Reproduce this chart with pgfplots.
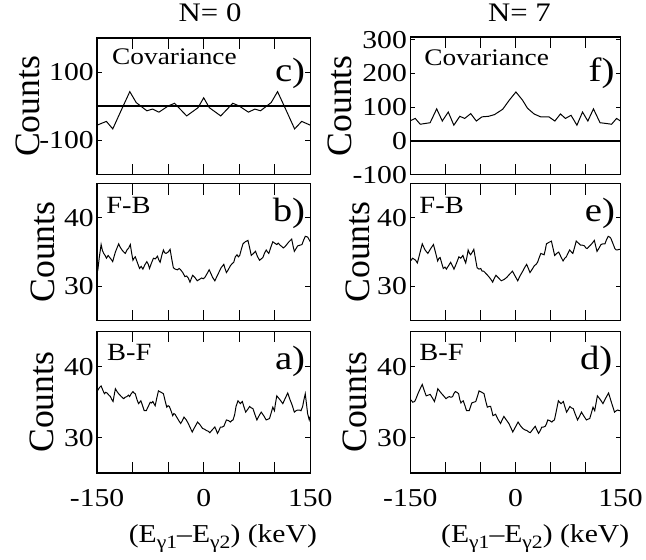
\documentclass[border=0pt]{standalone}
\usepackage{fontspec}
\setmainfont[FakeStretch=1.15]{Liberation Serif}
\newfontfamily\rotfont{Liberation Serif}
\usepackage{pgfplots}
\pgfplotsset{compat=1.18}
\newcommand{\sub}[1]{\raisebox{-6.5bp}{\fontsize{19bp}{19bp}\selectfont #1}}
\pgfplotsset{
  panel/.style={
    scale only axis, anchor=south west,
    xmin=-150, xmax=150,
    axis line style={line width=1.4bp},
    tick style={black, line width=1.2bp},
    tick align=inside, major tick length=11bp,
    xtick={-100,-50,0,50,100}, xticklabels={},
    ytick=\empty,
    extra y tick style={major tick length=5bp},
    tick label style={font=\fontsize{26bp}{26bp}\selectfont},
    ylabel={\rotfont\fontsize{36bp}{36bp}\selectfont Counts},
    ylabel style={anchor=center},
    title style={anchor=base, font=\fontsize{27bp}{27bp}\selectfont},
    xlabel style={anchor=base, font=\fontsize{26bp}{26bp}\selectfont},
  },
  bottomx/.style={
    extra x ticks={-150,0,150}, extra x tick labels={-150,0,150},
    extra x tick style={major tick length=0pt},
    xticklabel style={anchor=base, yshift=-34bp},
    xlabel={(E\sub{γ1}–E\sub{γ2}) (keV)},
  },
  dat/.style={black, line width=1bp, no marks, sharp plot},
}
\tikzset{
  lab/.style={inner sep=0pt, font=\fontsize{24bp}{24bp}\selectfont},
  labm/.style={inner sep=0pt, font=\fontsize{25bp}{25bp}\selectfont},
  letter/.style={inner sep=0pt, font=\fontsize{34bp}{34bp}\selectfont, anchor=base east},
}
\begin{document}
\begin{tikzpicture}
\path (0,0) rectangle (646bp,564bp);
% ---------------- c) top left
\begin{axis}[panel, at={(98bp,388bp)}, width=215bp, height=138bp,
  ymin=-200, ymax=200, extra y ticks={-100,100}, extra y tick labels={-100,100},
  title={N= 0}, title style={at={(axis description cs:0.53,1.08)}},
  ylabel style={at={(axis description cs:-0.3256,0.5)}}]
\addplot[black, line width=1.8bp] coordinates {(-150,0) (150,0)};
\addplot[dat] table {
-150 -55
-137 -44
-128 -66
-114 -2
-104 43
-95 11
-80 -13
-72 -8
-63 -17
-50 1
-41 9
-24 -28
-8 -4
0 25
8 -4
24 -28
41 9
50 1
63 -17
72 -8
80 -13
95 11
104 43
114 -2
128 -66
138 -44
150 -55
};
\node[lab, anchor=base west] at (rel axis cs:0.0698,0.804) {Covariance};
\node[letter] at (rel axis cs:0.977,0.681) {c)};
\end{axis}
% ---------------- b) middle left
\begin{axis}[panel, at={(98bp,241bp)}, width=215bp, height=138bp,
  ymin=25, ymax=45, extra y ticks={30,40}, extra y tick labels={30,40},
  ylabel style={at={(axis description cs:-0.2535,0.5)}}]
\addplot[dat] table {
-150 32.0
-149 32.4
-147 34.2
-144.4 36.1
-142.5 35.2
-140.7 34.8
-138.8 34.5
-136.9 34.1
-134.5 34.5
-132.3 34.2
-130 33.9
-128.1 33.6
-126 34.4
-124.3 35.0
-122 35.6
-119.7 36.2
-117.5 35.7
-115 35.3
-112.5 35.0
-110.3 34.8
-108 35.3
-105.5 35.6
-103.3 36.1
-101.5 34.9
-99.6 33.8
-98 34.1
-96.3 34.3
-93.5 33.5
-90.3 32.6
-88 32.9
-85.6 32.5
-83 33.1
-80 33.6
-78 33.2
-76.3 32.6
-73.5 33.4
-70.7 34.1
-68 34.0
-65.1 34.4
-63 33.8
-61.3 33.5
-59 34.5
-56.7 35.3
-55 34.9
-53 34.8
-50 35.0
-47.3 35.4
-45 34.0
-42.7 32.7
-40 32.5
-37 32.4
-34.5 32.6
-32.4 32.4
-29.5 32.0
-26.3 31.4
-24 31.5
-21.7 31.2
-19.3 30.6
-17.5 31.1
-15.6 31.6
-12.5 31.3
-9.1 30.8
-6 31.0
-3 31.2
-0.5 31.1
1.7 31.3
4.5 31.8
7.7 32.4
10 31.9
12.5 31.3
15.7 30.8
18.5 31.4
21.7 32.1
24.5 32.7
28.3 33.2
30 32.6
32 32.0
34.5 32.4
37.6 33.0
40 33.3
42.3 33.5
44.5 34.3
46.9 34.6
48.8 34.3
50.7 34.5
53 35.4
55.3 36.2
58.5 36.5
62.3 36.7
64.5 35.7
67 34.5
70 34.8
73 35.1
75.5 34.4
78.6 33.8
81 34.0
83.3 34.2
85.5 34.8
88 35.3
90 35.0
91.7 34.8
94.5 35.7
97.3 36.5
100 36.3
102.9 36.1
105 36.3
107.6 36.0
110 35.8
112.2 35.6
114.5 35.8
116.9 36.1
120 36.5
123.9 36.9
125.8 35.9
127.6 35.1
130 35.5
132.3 35.9
135.5 36.0
138.4 36.1
140.5 36.7
143 37.3
146.3 37.2
148 36.9
150 36.5
};
\node[labm, anchor=base west] at (rel axis cs:0.042,0.783) {F-B};
\node[letter] at (rel axis cs:0.977,0.725) {b)};
\end{axis}
% ---------------- a) bottom left
\begin{axis}[panel, bottomx, at={(98bp,87bp)}, width=215bp, height=143bp,
  ymin=25, ymax=45, extra y ticks={30,40}, extra y tick labels={30,40},
  ylabel style={at={(axis description cs:-0.26,0.5)}},
  xlabel style={at={(axis description cs:0.59,-0.4895)}}]
\addplot[dat] table {
-150 36.5
-149 36.7
-146.5 37.1
-144.4 37.3
-142 36.7
-139.7 36.2
-138 36.4
-136 36.3
-133.5 36.0
-131.3 35.8
-129.5 35.4
-127.6 35.1
-126 36.0
-124.3 36.9
-122 36.5
-119.7 36.2
-116 35.8
-112.7 35.5
-110.5 35.7
-108 35.8
-106 36.0
-104.3 35.8
-102 36.2
-99.6 36.5
-98 36.3
-96.3 36.2
-94 35.4
-91.7 34.8
-90 35.0
-88.4 35.2
-86 34.5
-83.7 33.8
-80.9 33.8
-78 34.4
-75.3 35.0
-73.5 34.9
-71.6 35.1
-70 34.8
-68.3 34.5
-66 35.6
-63.7 36.6
-60 36.4
-56.7 36.2
-54.3 35.2
-52 34.3
-50 34.5
-48.3 34.4
-46 33.8
-43.6 33.1
-42 33.4
-40.3 33.3
-38 32.9
-35 32.4
-32.4 32.0
-30 32.4
-27.7 32.9
-24.5 32.5
-21.7 32.0
-19 31.4
-16.1 30.8
-12.5 31.5
-8.6 32.2
-5 31.8
-1.6 31.3
1 31.2
4 31.0
6.5 30.9
8.7 30.7
12 31.1
15.7 31.5
17.5 31.1
19.4 30.6
21.5 31.0
23.6 31.5
26 31.5
28.3 31.6
30 32.0
32 32.5
35 32.4
37.6 32.2
39.5 32.4
41.3 32.5
43.5 33.2
45.5 34.4
48.3 35.2
50 35.0
51.6 34.8
54.4 35.1
56.5 34.4
59.1 33.6
62 34.0
64.7 34.4
67 34.2
69.3 34.1
72 33.3
74.9 32.5
78 33.1
81 33.6
84.5 33.1
88 32.5
90.5 32.6
92.7 32.7
95 33.5
97.3 34.3
99.6 33.8
101 34.8
102.9 35.9
107 35.4
111.4 34.8
115 35.6
118.3 36.3
121 35.5
124.5 34.6
127.6 33.6
130 33.8
132.3 33.9
135 33.9
137 33.8
139.3 34.4
141 35.3
143 36.2
145 34.5
146.3 33.4
148.6 32.5
150 33.0
};
\node[labm, anchor=base west] at (rel axis cs:0.0465,0.797) {B-F};
\node[letter] at (rel axis cs:0.977,0.734) {a)};
\end{axis}
% ---------------- f) top right
\begin{axis}[panel, at={(414bp,388bp)}, width=212bp, height=139bp,
  ymin=-100, ymax=308, extra y ticks={-100,0,100,200,300}, extra y tick labels={-100,0,100,200,300},
  title={N= 7}, title style={at={(axis description cs:0.519,1.072)}},
  ylabel style={at={(axis description cs:-0.337,0.5)}}]
\addplot[black, line width=1.8bp] coordinates {(-150,0) (150,0)};
\addplot[dat] table {
-150 60
-143 66.7
-135.9 49.5
-121.8 54
-112.4 95
-104.4 59
-95.9 85.7
-87.9 46.7
-79.4 73
-72.4 66.7
-63.8 81
-55.8 59
-47.8 71.4
-38.4 73
-29.9 78
-18.1 94
-8.7 121
0.7 145
10.1 121
17.2 97
26.6 80
36 71.4
47.8 71.4
56.3 59
64.3 80
71.4 66.7
79.4 76
87.8 46.7
95.8 85.7
103.4 59
111.4 95
120.8 54
128.8 52
137.3 49.5
144.4 66.7
150 59
};
\node[lab, anchor=base west] at (rel axis cs:0.066,0.791) {Covariance};
\node[letter] at (rel axis cs:0.972,0.676) {f)};
\end{axis}
% ---------------- e) middle right
\begin{axis}[panel, at={(414bp,241bp)}, width=212bp, height=138bp,
  ymin=25, ymax=45, extra y ticks={30,40}, extra y tick labels={30,40},
  ylabel style={at={(axis description cs:-0.252,0.5)}}]
\addplot[dat] table {
-150 33.8
-148.6 33.8
-147 34.1
-145.3 34.0
-142.5 33.8
-140 33.4
-136.5 34.8
-133 36.2
-129 35.3
-125 34.8
-121 35.5
-117 36.1
-114 34.9
-111 33.7
-109 34.1
-107.5 34.2
-105 33.3
-103 32.6
-100.5 32.8
-98.6 32.5
-95.5 33.0
-92.5 33.5
-90 33.0
-87.7 32.5
-84 33.4
-80.7 34.3
-78 34.1
-75 34.5
-73 33.9
-71 33.4
-69 34.4
-67.5 35.3
-65.5 34.8
-64 34.6
-61.5 35.0
-59.4 35.4
-57 34.0
-54.7 32.7
-52 32.5
-49.5 32.6
-47.5 32.2
-45.3 32.2
-41.5 31.8
-38 31.4
-35 31.0
-32.5 30.6
-30 31.2
-27.8 31.6
-24 31.2
-20.2 30.8
-16 31.0
-12.3 31.3
-8 31.8
-4.2 32.2
-0.5 31.5
3.3 30.8
6.5 31.5
9.9 32.1
13 32.7
16 33.2
18.5 32.6
20.8 32.0
24 32.5
27 33.0
29.5 33.2
31.6 33.5
34 34.2
36.3 34.8
38.5 34.7
41 34.6
42.8 35.4
44.3 36.2
47.5 36.4
51.4 36.6
53.8 35.5
56 34.5
59 34.8
61.8 35.0
65 34.3
68 33.7
70.5 34.1
72.6 34.3
75 34.8
77.4 35.3
80 35.0
82 34.8
84.5 35.7
86.8 36.6
90 36.3
93 36.0
95.8 36.0
98.6 35.9
100.5 35.6
102.4 35.5
105 35.8
108 36.1
110.5 36.4
112.7 36.7
114.5 35.9
116.5 35.1
119.5 35.6
122.2 36.1
125 36.2
127.8 36.2
130 36.8
132.5 37.3
134.5 37.2
136.3 37.0
139 36.3
142 35.5
144 35.3
145.7 35.3
148 35.4
150 35.4
};
\node[labm, anchor=base west] at (rel axis cs:0.0425,0.783) {F-B};
\node[letter] at (rel axis cs:0.975,0.725) {e)};
\end{axis}
% ---------------- d) bottom right
\begin{axis}[panel, bottomx, at={(414bp,87bp)}, width=212bp, height=143bp,
  ymin=25, ymax=45, extra y ticks={30,40}, extra y tick labels={30,40},
  ylabel style={at={(axis description cs:-0.262,0.5)}},
  xlabel style={at={(axis description cs:0.594,-0.4895)}}]
\addplot[dat] table {
-150 35.3
-149 35.3
-146.5 35.0
-143.9 35.1
-141.5 35.6
-139.2 36.2
-136 36.9
-133 37.5
-130 36.6
-127.4 35.9
-124.5 36.0
-121.7 36.1
-118.5 35.6
-115.6 35.1
-113 36.0
-110.8 36.9
-108.5 36.6
-106.1 36.3
-102.5 35.9
-99.1 35.5
-96.5 35.7
-94.3 35.8
-92 35.7
-89.6 35.8
-88 36.2
-85.8 36.5
-83.5 36.4
-81.1 36.2
-79.5 35.4
-77.8 34.9
-76 35.1
-74.5 35.2
-72 34.5
-69.8 33.8
-66 33.8
-64 34.4
-62.3 34.9
-59.5 35.0
-56.6 35.1
-54 35.9
-51.9 36.6
-48 36.4
-44.8 36.2
-42.5 35.2
-40.1 34.3
-37.5 34.4
-35.4 34.4
-33.5 33.7
-32.1 33.1
-30 33.2
-28.3 33.3
-25 32.6
-21.2 32.0
-19 32.5
-16.5 33.0
-13 32.5
-9.4 32.0
-6.5 31.4
-3.8 30.8
0 31.5
3.8 32.2
7 31.7
10.4 31.3
13.5 31.1
16.5 31.0
19 30.8
21.2 30.7
25 31.2
28.3 31.6
30.5 31.1
33 30.6
35.5 31.0
37.7 31.5
40 31.5
42.5 31.6
44.5 32.0
46.2 32.5
49 32.4
51.9 32.2
54 32.4
55.7 32.5
58.5 33.8
61.3 35.2
63 35.0
65.1 34.8
68.4 35.1
70.5 34.4
73.1 33.6
75.5 34.0
77.8 34.4
80 34.2
82.5 34.1
85.5 33.3
88.7 32.5
91.5 33.0
94.3 33.6
98 33.0
101.4 32.5
103.5 32.6
106.1 32.7
108.5 33.5
110.8 34.3
113.2 33.8
115 34.8
117 35.9
121 35.4
125 34.8
129 35.6
133 36.3
137 35.0
141.5 33.6
144 33.8
146.2 33.9
148 33.8
150 33.8
};
\node[labm, anchor=base west] at (rel axis cs:0.0425,0.797) {B-F};
\node[letter] at (rel axis cs:0.962,0.734) {d)};
\end{axis}
\end{tikzpicture}
\end{document}
